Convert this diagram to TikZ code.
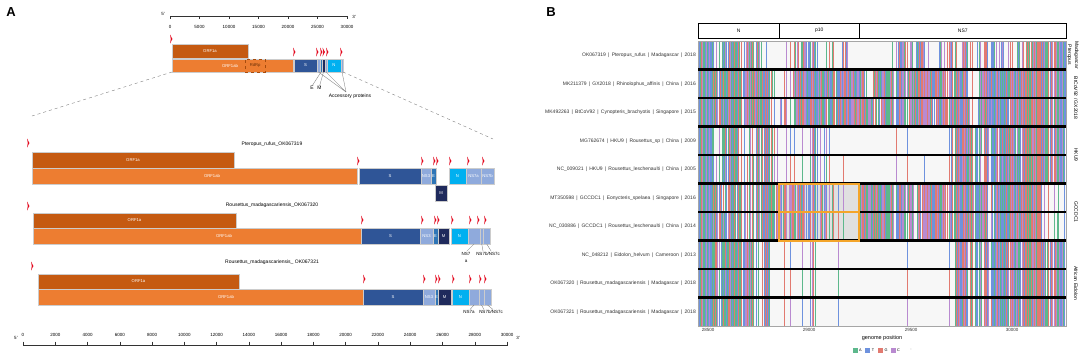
\documentclass[tikz,border=0pt]{standalone}
\usepackage{fontspec}
\usepackage{intcalc}
\setmainfont{Liberation Sans}
\definecolor{orfa}{HTML}{C55A11}
\definecolor{orfab}{HTML}{ED7D31}
\definecolor{sblue}{HTML}{2F5597}
\definecolor{lblue}{HTML}{8FAADC}
\definecolor{eblue}{HTML}{2E75B6}
\definecolor{mnavy}{HTML}{1F2A5C}
\definecolor{nsky}{HTML}{00B0F0}
\definecolor{mkred}{HTML}{E3061B}
\definecolor{c0}{HTML}{5DB88C}
\definecolor{c1}{HTML}{6E92DE}
\definecolor{c2}{HTML}{E27A70}
\definecolor{c3}{HTML}{B98AD0}
\definecolor{boxor}{HTML}{F4A52A}
\newcommand\gbx[7]{\node[gb,fill=#6,minimum width={(#4-#2)*1pt},minimum height={(#5-#3)*1pt},anchor=north west] (#1) at (#2,#3) {};\node[lbl] at (#1.center) {#7};}
\newcommand\redmk[2]{\fill[mkred] (#1,#2-4.5) -- (#1+2.4,#2) -- (#1,#2+4.5) -- (#1+0.8,#2) -- cycle;}
\def\dA{9,9,3,7,8,5,8,8,2,0,0,4,4,8,4,0,3,0,3,0,0,0,0,0,2,7,6,4,5,1,7,6,4,5,6,3,6,4,6,3,7,6,9,9,9,9}
\def\dB{9,9,9,9,8,9,9,9,9,3,2,5,9,9,9,9,9,9,8,9,8,3,8,9,9,8,9,9,8,9,9,8,9,5,3,8,9,9,9,8,9,9,9,8,9,9}
\def\dC{9,9,9,9,8,8,9,9,9,2,5,3,9,9,9,9,8,9,9,8,9,9,4,9,9,9,8,9,9,8,9,9,9,8,4,9,9,9,8,9,9,9,9,9,9,9}
\def\dD{9,9,1,8,8,3,2,8,8,5,0,3,3,2,4,3,1,0,0,0,0,0,0,0,1,0,1,0,0,0,0,3,8,8,8,4,8,8,9,7,8,8,9,8,8,8}
\def\dE{9,9,2,8,8,3,3,8,8,4,0,3,3,2,4,3,1,0,1,0,0,1,0,0,1,0,1,0,1,0,0,3,8,8,8,3,8,8,9,8,8,8,9,8,8,8}
\def\dF{9,9,9,4,6,7,3,8,9,8,7,8,8,7,6,7,3,1,1,0,9,9,9,9,9,9,9,3,9,9,9,5,9,9,9,9,4,9,9,9,9,9,9,3,3,5}
\def\dG{9,9,9,5,6,7,3,8,9,8,7,8,8,7,6,6,3,1,1,0,9,9,9,9,9,9,8,3,9,9,9,5,9,9,9,9,4,9,9,9,9,9,9,3,4,5}
\def\dH{9,9,8,9,8,9,7,5,8,1,2,2,0,2,3,0,0,1,0,0,0,0,0,0,0,0,1,0,0,0,0,2,8,5,8,4,8,9,8,9,8,8,9,7,8,8}
\def\dI{9,9,8,9,8,9,7,5,8,1,2,2,0,2,3,0,0,1,0,0,0,0,0,0,0,0,1,0,0,0,0,2,8,5,8,4,8,9,8,9,8,8,9,7,8,8}
\def\dJ{9,9,8,9,8,9,7,5,8,1,2,2,0,2,3,0,0,1,0,0,0,0,0,0,0,0,1,0,0,0,0,2,8,5,8,4,8,9,8,9,8,8,9,8,8,8}
\begin{document}
\begin{tikzpicture}[x=1pt,y=-1pt,
  gb/.style={draw=black!20,line width=0.3pt,inner sep=0pt,outer sep=0pt,rectangle},
  lbl/.style={font=\fontsize{4.2}{5}\selectfont,text=white,inner sep=0pt},
  tx/.style={font=\fontsize{5}{7}\selectfont,inner sep=0pt},
  ax/.style={font=\fontsize{4.5}{5.4}\selectfont,inner sep=0pt},
  axl/.style={line width=0.5pt,black!80},
  lead/.style={line width=0.3pt,black!55},
  hdr/.style={draw,line width=0.5pt,inner sep=0pt,anchor=north west,minimum height=15pt},
  panel/.style={font=\bfseries\fontsize{13}{13}\selectfont,inner sep=0pt}]
\useasboundingbox (0,0) rectangle (1084,359);
\fill[white] (0,0) rectangle (1084,359);
% ================= Panel A =================
\node[panel] (lA) at (11,12) {A};
% top axis
\draw[axl] (170,16) -- (347,16);
\foreach \k/\lab in {0/0,1/5000,2/10000,3/15000,4/20000,5/25000,6/30000}{
  \draw[axl] (170+\k*29.5,16) -- ++(0,2.5);
  \node[ax] at (170+\k*29.5,27) {\lab};
}
\node[ax] (t5) at (163,14) {5'};
\node[ax] (t3) at (354,17) {3'};
% top genome
\redmk{170}{39}
\gbx{ta}{172}{44}{248}{58}{orfa}{ORF1a}
\gbx{tab}{172}{59}{293}{72}{orfab}{}
\node[lbl] (tablab) at (230,65.5) {ORF1ab};
\node[draw=orfa!85!black,dashed,line width=0.4pt,inner sep=0pt,minimum width=20pt,minimum height=13pt,anchor=north west] (rdrp) at (245,59) {};
\node[lbl,text=orfa!55!black] at (rdrp.center) {RdRp};
\gbx{ts}{294}{59}{317}{72}{sblue}{S}
\gbx{tn3}{317}{59}{320}{72}{lblue}{}
\gbx{te}{320}{59}{322}{72}{eblue}{}
\gbx{tm}{322}{59}{325}{72}{mnavy}{}
\gbx{tx}{325}{59}{327}{72}{lblue}{}
\gbx{tn}{327}{59}{341}{72}{nsky}{N}
\gbx{t7}{341}{59}{343}{72}{lblue}{}
\redmk{293}{52}\redmk{316}{52}\redmk{320}{52}\redmk{322.5}{52}\redmk{326}{52}\redmk{340}{52}
\node[tx] (le) at (312,88) {E};
\node[tx] (lm) at (319.5,88) {M};
\draw[lead] (te.south) -- (le.north) (tm.south) -- (lm.north);
\node[tx] (acc) at (350,96) {Accessory proteins};
\coordinate (accp) at (346,92);
\draw[lead] (tn3.south) -- (accp) (tx.south) -- (accp) (t7.south) -- (accp);
\coordinate (dl) at (32,116);
\coordinate (dr) at (493,139);
\draw[dashed,gray,line width=0.4pt] (tab.south west) -- (dl);
\draw[dashed,gray,line width=0.4pt] (t7.south east) -- (dr);
% genome 1
\redmk{27}{143}
\node[tx] (nm1) at (272,144) {Pteropus\_rufus\_OK067319};
\gbx{a1}{32}{152}{234}{168}{orfa}{ORF1a}
\gbx{ab1}{32}{168}{357}{184}{orfab}{}
\node[lbl] at (212,176) {ORF1ab};
\gbx{s1}{359}{168}{421}{184}{sblue}{S}
\gbx{ns1}{421}{168}{431}{184}{lblue}{NS3}
\gbx{e1}{431}{168}{436}{184}{eblue}{E}
\gbx{m1}{435}{185}{447}{201}{mnavy}{M}
\gbx{n1}{449}{168}{466}{184}{nsky}{N}
\gbx{sa1}{466}{168}{481}{184}{lblue}{NS7a}
\gbx{sb1}{481}{168}{494}{184}{lblue}{NS7b}
\foreach \x in {357,421,433,436,449,467,482}{\redmk{\x}{161}}
% genome 2
\redmk{27}{206}
\node[tx] (nm2) at (272,205) {Rousettus\_madagascariensis\_OK067320};
\gbx{a2}{33}{213}{236}{228}{orfa}{ORF1a}
\gbx{ab2}{33}{228}{361}{244}{orfab}{}
\node[lbl] at (224,236) {ORF1ab};
\gbx{s2}{361}{228}{420}{244}{sblue}{S}
\gbx{ns2}{420}{228}{433}{244}{lblue}{NS3}
\gbx{e2}{433}{228}{438}{244}{eblue}{E}
\gbx{m2}{438}{228}{449}{244}{mnavy}{M}
\gbx{n2}{451}{228}{468}{244}{nsky}{N}
\gbx{sa2}{468}{228}{480}{244}{lblue}{}
\gbx{sb2}{480}{228}{483.5}{244}{lblue}{}
\gbx{sc2}{483.5}{228}{490}{244}{lblue}{}
\foreach \x in {361,421,434,437,451,469,477,484}{\redmk{\x}{220}}
\node[tx,align=center,font=\fontsize{4.5}{7}\selectfont] (l7a2) at (466,257) {NS7\\a};
\node[tx,font=\fontsize{4.5}{5.4}\selectfont] (l7b2) at (488,254) {NS7b/NS7c};
\draw[lead] (sa2.south) -- (467,251) (sb2.south) -- (483,251) (sc2.south) -- (491,251);
% genome 3
\redmk{31}{266}
\node[tx] (nm3) at (272,262) {Rousettus\_madagascariensis\_ OK067321};
\gbx{a3}{38}{274}{239}{289}{orfa}{ORF1a}
\gbx{ab3}{38}{289}{363}{305}{orfab}{}
\node[lbl] at (226,297) {ORF1ab};
\gbx{s3}{363}{289}{423}{305}{sblue}{S}
\gbx{ns3}{423}{289}{435}{305}{lblue}{NS3}
\gbx{e3}{435}{289}{438}{305}{eblue}{E}
\gbx{m3}{438}{289}{451}{305}{mnavy}{M}
\gbx{n3}{452}{289}{469}{305}{nsky}{N}
\gbx{sa3}{469}{289}{479}{305}{lblue}{}
\gbx{sb3}{479}{289}{484}{305}{lblue}{}
\gbx{sc3}{484}{289}{491}{305}{lblue}{}
\foreach \x in {363,423,435,438,452,469,479,484}{\redmk{\x}{279}}
\node[tx,font=\fontsize{4.5}{5.4}\selectfont] (l7a3) at (469,312) {NS7a};
\node[tx,font=\fontsize{4.5}{5.4}\selectfont] (l7b3) at (491,312) {NS7b/NS7c};
\draw[lead] (sa3.south) -- (470,309.5) (sb3.south) -- (484,309.5) (sc3.south) -- (493,309.5);
% bottom axis
\draw[axl] (23,345) -- (507,345);
\foreach \k in {0,...,15}{
  \draw[axl] (23+\k*32.27,341.5) -- (23+\k*32.27,345.5);
  \node[ax] at (23+\k*32.27,335) {\the\numexpr\k*2000\relax};
}
\node[ax] (b5) at (16,338) {5'};
\node[ax] (b3) at (518,338) {3'};
% ================= Panel B =================
\node[panel] (lB) at (551,12) {B};
\node[hdr,minimum width=81pt] (hN) at (698,23) {};
\node[hdr,minimum width=80pt] (hP) at (779,23) {};
\node[hdr,minimum width=207pt] (hS) at (859,23) {};
\node[tx] at (hN.center) {N};
\node[tx] at (hP.center) {p10};
\node[tx] at (hS.center) {NS7};
\fill[black!3] (698,41) rectangle (1066,326);
% gray region inside orange box
\fill[black!12] (779,183.5) rectangle (859,240.5);
% stripes
\foreach \rw/\dm in {0/\dA,1/\dB,2/\dC,3/\dD,4/\dE,5/\dF,6/\dG,7/\dH,8/\dI,9/\dJ}{
  \pgfmathsetmacro\yt{41+28.5*\rw}
  \pgfmathsetmacro\yb{41+28.5*(\rw+1)}
  \edef\curlist{\dm}
  \foreach \dd [count=\bk from 0] in \curlist {
    \foreach \j in {0,...,7}{
      \edef\ii{\the\numexpr8*\bk+\j\relax}
      \edef\tA{\intcalcMod{\ii*7919+13}{10007}}
      \edef\tB{\intcalcMod{\tA*\tA+17}{10007}}
      \edef\hA{\intcalcMod{\tB*\tB+\ii}{10007}}
      \ifnum\hA<\numexpr\dd*1060\relax
        \edef\tC{\intcalcMod{\ii*1047+71}{10009}}
        \edef\tD{\intcalcMod{\tC*\tC+7}{10009}}
        \edef\hB{\intcalcMod{\tD*\tD+3}{10009}}
        \ifnum\hA<1300 \edef\col{\intcalcMod{\hB+\rw}{4}}\else\edef\col{\intcalcMod{\hB}{4}}\fi
        \fill[c\col] (698+\ii,\yt) rectangle (699.15+\ii,\yb);
      \fi
    }
  }
}
\draw[black!35,line width=0.3pt] (698,41) rectangle (1066,326);
\foreach \k in {1,...,9}{
  \draw[line width=2.2pt] (698,41+28.5*\k) -- (1066,41+28.5*\k);
}
\draw[boxor,line width=2pt] (779,183.5) rectangle (859,240.5);
\draw[boxor,line width=2pt] (779,212) -- (859,212);
% row labels
\foreach \k/\txt in {
  0/{OK067319 \,|\, Pteropus\_rufus \,|\, Madagascar \,|\, 2018},
  1/{MK211379 \,|\, GX2018 \,|\, Rhinolophus\_affinis \,|\, China \,|\, 2016},
  2/{MK492263 \,|\, BtCoV92 \,|\, Cynopteris\_brachyotis \,|\, Singapore \,|\, 2015},
  3/{MG762674 \,|\, HKU9 \,|\, Rousettus\_sp \,|\, China \,|\, 2009},
  4/{NC\_009021 \,|\, HKU9 \,|\, Rousettus\_leschenaulti \,|\, China \,|\, 2005},
  5/{MT350598 \,|\, GCCDC1 \,|\, Eonycteris\_spelaea \,|\, Singapore \,|\, 2016},
  6/{NC\_030886 \,|\, GCCDC1 \,|\, Rousettus\_leschenaulti \,|\, China \,|\, 2014},
  7/{NC\_048212 \,|\, Eidolon\_helvum \,|\, Cameroon \,|\, 2013},
  8/{OK067320 \,|\, Rousettus\_madagascariensis \,|\, Madagascar \,|\, 2018},
  9/{OK067321 \,|\, Rousettus\_madagascariensis \,|\, Madagascar \,|\, 2018}}{
  \node[tx,anchor=east,text=black!80] (rl\k) at (696,55.25+28.5*\k) {\txt};
}
% group labels
\node[tx,rotate=-90,align=center] (g0) at (1073,55) {Madagascar\\Pteropus};
\node[tx,rotate=-90] (g1) at (1076,98) {BtCoV92 / GX2018};
\node[tx,rotate=-90] (g2) at (1076,155) {HKU9};
\node[tx,rotate=-90] (g3) at (1076,212) {GCCDC1};
\node[tx,rotate=-90] (g4) at (1076,283) {African Eidolon};
% bottom axis B
\foreach \v/\x in {28500/708,29000/809,29500/911,30000/1012}{
  \node[ax,text=black!80] at (\x,330) {\v};
}
\node[tx,font=\fontsize{5.5}{6.6}\selectfont] (gp) at (882,338.5) {genome position};
% legend
\foreach \c/\x/\l in {c0/852.5/A,c1/865/T,c2/878/G,c3/890.5/C}{
  \fill[\c] (\x,347.5) rectangle ++(5,5);
  \node[ax,font=\fontsize{3.8}{4.5}\selectfont] at (\x+8,350) {\l};
}
\node[ax,font=\fontsize{3.8}{4.5}\selectfont,text=black!60] (legdash) at (911,350) {-};
\end{tikzpicture}
\end{document}
